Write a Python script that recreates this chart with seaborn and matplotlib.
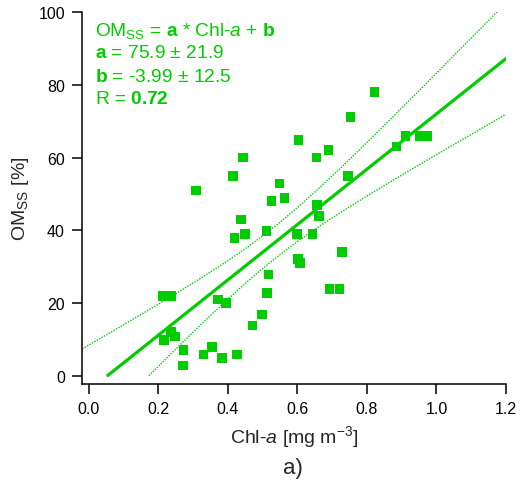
import numpy as np
import pandas as pd
import matplotlib
matplotlib.use('Agg')
import matplotlib.pyplot as plt
import seaborn as sns

# Chl-a [mg m-3] and OM_ss [%]
chl = [0.213, 0.238, 0.371, 0.394, 0.512, 0.498, 0.471, 0.236, 0.216, 0.248,
       0.272, 0.270, 0.330, 0.354, 0.383, 0.426, 0.603, 0.443, 0.414, 0.308,
       0.548, 0.563, 0.525, 0.438, 0.419, 0.450, 0.511, 0.598, 0.657, 0.663,
       0.643, 0.729, 0.602, 0.607, 0.517, 0.692, 0.721, 0.822, 0.753, 0.690,
       0.655, 0.911, 0.953, 0.973, 0.885, 0.745]
om = [22.0, 22.0, 21.0, 20.0, 22.8, 16.8, 13.8, 12.0, 9.9, 10.8,
      7.0, 2.8, 5.8, 7.9, 4.8, 5.8, 64.9, 60.0, 55.0, 50.9,
      52.9, 48.9, 48.0, 43.0, 37.9, 38.9, 39.8, 38.9, 47.0, 44.0,
      39.0, 34.0, 32.1, 31.0, 27.8, 23.9, 23.9, 78.1, 71.1, 62.0,
      60.0, 66.0, 66.0, 66.0, 63.0, 55.0]
xticks = [0.0, 0.2, 0.4, 0.6, 0.8, 1.0, 1.2]
yticks = [0, 20, 40, 60, 80, 100]

green = '#00cc00'

sns.set_style('ticks')
plt.rcParams['font.family'] = ['Liberation Sans', 'DejaVu Sans']
plt.rcParams['mathtext.fontset'] = 'custom'
plt.rcParams['mathtext.rm'] = 'Liberation Sans'
plt.rcParams['mathtext.it'] = 'Liberation Sans:italic'
plt.rcParams['mathtext.bf'] = 'Liberation Sans:bold'

df = pd.DataFrame({'chl': chl, 'om': om})

# linear fit with 95% confidence band
x = df['chl'].values
y = df['om'].values
n = len(x)
a, b = np.polyfit(x, y, 1)
resid = y - (a * x + b)
s = np.sqrt(np.sum(resid ** 2) / (n - 2))
sxx = np.sum((x - x.mean()) ** 2)
t = 2.015
xs = np.linspace(-0.019, 1.2, 300)
yfit = a * xs + b
half = t * s * np.sqrt(1 / n + (xs - x.mean()) ** 2 / sxx)
up = yfit + half
lo = yfit - half
yfit = np.where(yfit < 0, np.nan, yfit)
lo = np.where(lo < 0, np.nan, lo)

fig = plt.figure(figsize=(5.21, 4.85), dpi=100)
ax = fig.add_axes([0.158, 0.206, 0.813, 0.767])

sns.scatterplot(data=df, x='chl', y='om', marker='s', s=48, color=green,
                edgecolor='none', linewidth=0, ax=ax, zorder=3)
ax.plot(xs, yfit, color=green, lw=2.3, zorder=2)
ax.plot(xs, up, color=green, lw=1.0, ls=(0, (1, 1)), zorder=2)
ax.plot(xs, lo, color=green, lw=1.0, ls=(0, (1, 1)), zorder=2)

ax.set_xlim(-0.019, 1.2)
ax.set_ylim(-2.3, 100)
ax.set_xticks(xticks)
ax.set_xticklabels(['%.1f' % v for v in xticks])
ax.set_yticks(yticks)
ax.tick_params(direction='out', length=7.5, width=1.1, labelsize=11.5,
               colors='black', pad=5)
for sp in ['left', 'bottom']:
    ax.spines[sp].set_linewidth(1.1)
    ax.spines[sp].set_color('black')
sns.despine(ax=ax)

ax.set_xlabel(r'Chl-$\mathit{a}$ [mg m$^{\mathrm{-3}}$]', fontsize=14, labelpad=5)
ax.set_ylabel(r'OM$_{\mathrm{SS}}$ [%]', fontsize=14, labelpad=5)
fig.text(0.562, 0.035, 'a)', fontsize=16, ha='center', va='center')

lines = [r'OM$_{\mathrm{SS}}$ = $\mathbf{a}$ * Chl-$\mathit{a}$ + $\mathbf{b}$',
         r'$\mathbf{a}$ = 75.9 $\pm$ 21.9',
         r'$\mathbf{b}$ = -3.99 $\pm$ 12.5',
         r'R = $\mathbf{0.72}$']
for i, txt in enumerate(lines):
    fig.text(95 / 521, 1 - (31 + 23 * i) / 485, txt, fontsize=13.8, color=green,
             ha='left', va='center')

fig.savefig('out.png', dpi=100)
